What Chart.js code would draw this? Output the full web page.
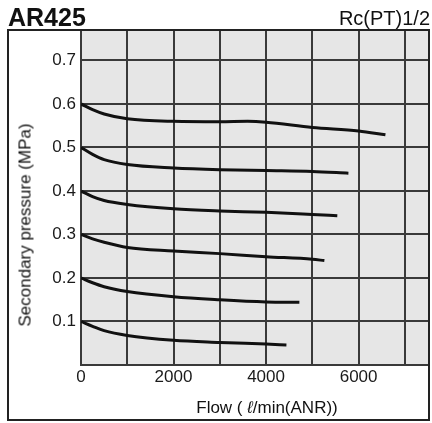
<!DOCTYPE html>
<html>
<head>
<meta charset="utf-8">
<script src="https://cdn.jsdelivr.net/npm/chart.js@4"></script>
<style>
  body { margin: 0; background: #fff; }
  #wrap { position: relative; width: 432px; height: 423px; font-family: "Liberation Sans", Arial, sans-serif; color: #111; }
  #chart { position: absolute; left: 0; top: 0; }
  .txt { position: absolute; white-space: nowrap; line-height: 1; }
  #title { left: 8px; top: 5px; font-size: 25px; font-weight: bold; }
  #port { right: 2px; top: 8px; font-size: 20px; }
  #ytitle { left: 25px; top: 225px; font-size: 17px; transform: translate(-50%, -50%) rotate(-90deg); }
  #xtitle { left: 267px; top: 407px; font-size: 17px; transform: translate(-50%, -50%); }
</style>
</head>
<body>
<div id="wrap">
  <canvas id="chart" width="432" height="423"></canvas>
  <div class="txt" id="title">AR425</div>
  <div class="txt" id="port">Rc(PT)1/2</div>
  <div class="txt" id="ytitle">Secondary pressure (MPa)</div>
  <div class="txt" id="xtitle">Flow ( <i>ℓ</i>/min(ANR))</div>
</div>
<script>
// values, flow in l/min, pressure in MPa
const flow06 = [0, 250, 500, 1000, 2000, 3000, 3600, 4000, 5000, 6000, 6580];
const pres06 = [0.600, 0.587, 0.577, 0.566, 0.560, 0.559, 0.560, 0.558, 0.546, 0.538, 0.529];
const flow05 = [0, 250, 500, 1000, 2000, 3000, 4000, 5000, 5780];
const pres05 = [0.500, 0.484, 0.472, 0.461, 0.453, 0.449, 0.447, 0.445, 0.441];
const flow04 = [0, 250, 500, 1000, 2000, 3000, 4000, 5000, 5540];
const pres04 = [0.400, 0.387, 0.378, 0.369, 0.359, 0.354, 0.351, 0.346, 0.343];
const flow03 = [0, 250, 500, 1000, 2000, 3000, 4000, 5000, 5260];
const pres03 = [0.300, 0.290, 0.282, 0.270, 0.262, 0.256, 0.249, 0.243, 0.240];
const flow02 = [0, 250, 500, 1000, 2000, 3000, 4000, 4720];
const pres02 = [0.200, 0.189, 0.180, 0.169, 0.157, 0.150, 0.145, 0.144];
const flow01 = [0, 250, 500, 1000, 2000, 3000, 4000, 4440];
const pres01 = [0.100, 0.089, 0.079, 0.068, 0.057, 0.052, 0.048, 0.046];

const xGrid = [0, 1000, 2000, 3000, 4000, 5000, 6000, 7000];
const xLabels = [0, 2000, 4000, 6000];
const yLabels = [0.1, 0.2, 0.3, 0.4, 0.5, 0.6, 0.7];
const xMax = 7500;
const yMax = 0.77;

const curves = [
    [flow06, pres06], [flow05, pres05], [flow04, pres04],
    [flow03, pres03], [flow02, pres02], [flow01, pres01]
];

function toPoints(xs, ys) {
    return xs.map((x, i) => ({ x: x, y: ys[i] }));
}

// grey plot area + outer frame
const framePlugin = {
    id: 'frame',
    beforeDraw(chart) {
        const { ctx, chartArea: a } = chart;
        ctx.save();
        ctx.fillStyle = '#e6e6e6';
        ctx.fillRect(a.left, a.top, a.right - a.left, a.bottom - a.top);
        ctx.restore();
    },
    afterDraw(chart) {
        const ctx = chart.ctx;
        ctx.save();
        ctx.strokeStyle = '#222';
        ctx.lineWidth = 2;
        ctx.strokeRect(8, 30, 421, 390);
        ctx.restore();
    }
};

const gridStyle = { color: '#3a3a3a', lineWidth: 2, drawTicks: false };
const tickFont = { family: '"Liberation Sans", Arial, sans-serif', size: 17 };

new Chart(document.getElementById('chart'), {
    type: 'scatter',
    data: {
        datasets: curves.map(c => ({
            data: toPoints(c[0], c[1]),
            showLine: true,
            borderColor: '#111',
            borderWidth: 3,
            pointRadius: 0,
            cubicInterpolationMode: 'monotone',
            fill: false
        }))
    },
    options: {
        responsive: false,
        animation: false,
        layout: { padding: { left: 8, top: 30, right: 4, bottom: 2 } },
        plugins: { legend: { display: false }, tooltip: { enabled: false } },
        scales: {
            x: {
                type: 'linear',
                min: 0,
                max: xMax,
                grid: gridStyle,
                border: { color: '#3a3a3a', width: 2 },
                afterFit: s => { s.height = 56; },
                afterBuildTicks: s => { s.ticks = xGrid.map(v => ({ value: v })); },
                ticks: {
                    autoSkip: false,
                    maxRotation: 0,
                    padding: 2,
                    color: '#1a1a1a',
                    font: tickFont,
                    callback: v => xLabels.includes(v) ? String(v) : ''
                }
            },
            y: {
                min: 0,
                max: yMax,
                grid: gridStyle,
                border: { color: '#3a3a3a', width: 2 },
                afterFit: s => { s.width = 73; },
                ticks: {
                    stepSize: 0.1,
                    includeBounds: false,
                    autoSkip: false,
                    padding: 5,
                    color: '#1a1a1a',
                    font: tickFont,
                    callback: v => {
                        const r = Math.round(v * 10) / 10;
                        return yLabels.includes(r) ? r.toFixed(1) : '';
                    }
                }
            }
        }
    },
    plugins: [framePlugin]
});
</script>
</body>
</html>
